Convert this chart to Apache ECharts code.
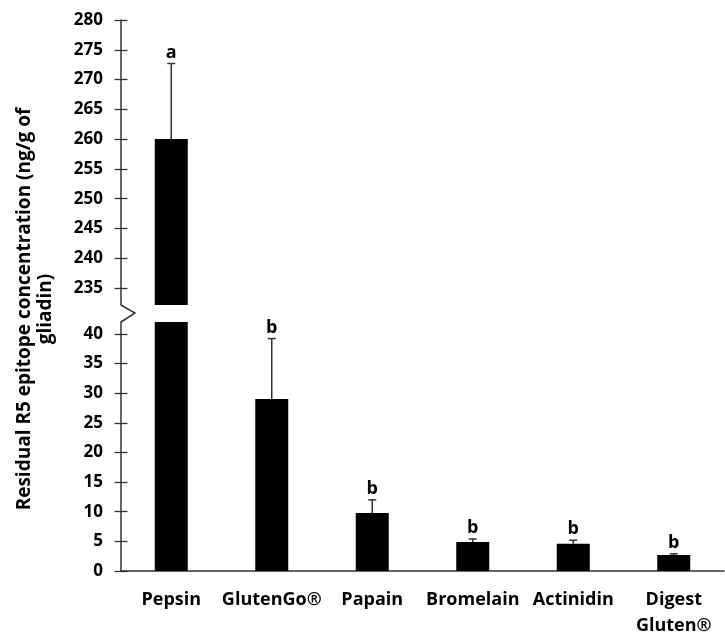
<!DOCTYPE html>
<html>
<head>
<meta charset="utf-8">
<script src="https://cdn.jsdelivr.net/npm/echarts@6/dist/echarts.min.js"></script>
<style>html,body{margin:0;padding:0;background:#fff}#c{width:725px;height:639px}</style>
</head>
<body>
<div id="c"></div>
<script>
const categories = ['Pepsin', 'GlutenGo®', 'Papain', 'Bromelain', 'Actinidin', 'Digest\nGluten®'];
const means = [260, 29, 9.8, 4.9, 4.6, 2.7];
const errors = [12.7, 10.2, 2.2, 0.5, 0.6, 0.2];
const letters = ['a', 'b', 'b', 'b', 'b', 'b'];
const lowTicks = [0, 5, 10, 15, 20, 25, 30, 35, 40];
const highTicks = [235, 240, 245, 250, 255, 260, 265, 270, 275, 280];
const lowRange = [0, 42];
const highRange = [232.15, 280];

const FONT = '"Open Sans", "Liberation Sans", sans-serif';
const AXC = '#333';
const chart = echarts.init(document.getElementById('c'), null, {renderer: 'canvas'});

function yAx(grid, range, ticks, inside, showLine) {
  return {
    type: 'value', gridIndex: grid, position: 'left', min: range[0], max: range[1],
    splitLine: {show: false},
    axisLine: {show: showLine, lineStyle: {color: AXC, width: 1.5}},
    axisTick: {show: true, inside: inside, length: 6.5, customValues: ticks, lineStyle: {color: AXC, width: 1.3}},
    axisLabel: {show: !inside, customValues: ticks, margin: 18, color: '#000', fontFamily: FONT, fontWeight: 'bold', fontSize: 17}
  };
}

const data = categories.map((c, i) => [i, means[i], errors[i], letters[i]]);

function errSeries(xi, yi, range) {
  return {
    type: 'custom', xAxisIndex: xi, yAxisIndex: yi, data: data, z: 5,
    renderItem: function (params, api) {
      const m = api.value(1), e = api.value(2);
      const top = m + e;
      if (m < range[0] || top > range[1]) return null;
      const p0 = api.coord([api.value(0), m]);
      const p1 = api.coord([api.value(0), top]);
      const cap = 4;
      return {
        type: 'group',
        children: [
          {type: 'line', shape: {x1: p0[0], y1: p0[1], x2: p1[0], y2: p1[1]}, style: {stroke: AXC, lineWidth: 1.5}},
          {type: 'line', shape: {x1: p1[0] - cap, y1: p1[1], x2: p1[0] + cap, y2: p1[1]}, style: {stroke: AXC, lineWidth: 1.5}},
          {type: 'text', style: {text: letters[params.dataIndex], x: p1[0], y: p1[1] - 2, textAlign: 'center', textVerticalAlign: 'bottom', fill: '#000', font: 'bold 18px ' + FONT}}
        ]
      };
    }
  };
}

const option = {
  animation: false,
  backgroundColor: '#fff',
  grid: [
    {left: 121, right: 1, top: 20, height: 285},
    {left: 121, right: 1, top: 322, bottom: 66}
  ],
  xAxis: [
    {type: 'category', gridIndex: 0, data: categories, show: false},
    {type: 'category', gridIndex: 1, data: categories,
      axisLine: {lineStyle: {color: AXC, width: 1.5}},
      axisTick: {length: 7, lineStyle: {color: AXC, width: 1.3}},
      axisLabel: {margin: 16, color: '#000', fontFamily: FONT, fontWeight: 'bold', fontSize: 18, lineHeight: 26, interval: 0}},
    {type: 'category', gridIndex: 1, data: categories,
      axisLine: {show: false},
      axisTick: {inside: true, length: 7, lineStyle: {color: AXC, width: 1.3}},
      axisLabel: {show: false}}
  ],
  yAxis: [
    yAx(0, highRange, highTicks, false, true),
    yAx(0, highRange, highTicks, true, false),
    yAx(1, lowRange, lowTicks, false, true),
    yAx(1, lowRange, lowTicks, true, false)
  ],
  series: [
    {type: 'bar', xAxisIndex: 0, yAxisIndex: 0, data: means, barWidth: 33, itemStyle: {color: '#000'}, clip: true},
    {type: 'bar', xAxisIndex: 1, yAxisIndex: 2, data: means, barWidth: 33, itemStyle: {color: '#000'}, clip: true},
    errSeries(0, 0, highRange),
    errSeries(1, 2, lowRange)
  ],
  graphic: [
    {type: 'polyline', shape: {points: [[121, 305], [135, 313], [121, 322]]}, style: {stroke: AXC, lineWidth: 1.5, fill: null}},
    {type: 'text', x: 35, y: 309, rotation: Math.PI / 2,
      style: {text: 'Residual R5 epitope concentration (ng/g of\ngliadin)', textAlign: 'center', textVerticalAlign: 'middle',
        fill: '#000', font: 'bold 19px ' + FONT, lineHeight: 21}}
  ]
};
chart.setOption(option);
</script>
</body>
</html>
